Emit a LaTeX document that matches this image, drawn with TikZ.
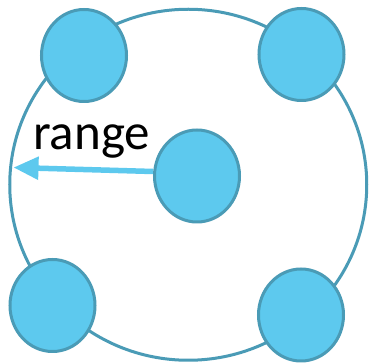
\documentclass[tikz,border=0pt]{standalone}
\usepackage{fontspec}
\setmainfont{Carlito}
\usetikzlibrary{shapes.geometric,arrows.meta}
\definecolor{rimblue}{RGB}{74,155,182}
\definecolor{dotblue}{RGB}{93,201,238}
\begin{document}
\begin{tikzpicture}[x=1pt, y=-1pt,
        zone/.style={draw=rimblue, line width=3pt, ellipse, fill=white,
                     minimum width=357pt, minimum height=351pt, inner sep=0pt},
        dev/.style={draw=rimblue, line width=3pt, ellipse, fill=dotblue,
                    minimum width=85pt, minimum height=92pt, inner sep=0pt},
        arr/.style={-{Triangle[length=25pt, width=22pt]}, line width=5.5pt, draw=dotblue}
      ]
      \useasboundingbox (0,0) rectangle (373,363);
      \node[zone] (zone) at (188.25,184.75) {};

      \coordinate (edge) at (13.5,167.5);
      \node[dev] (mid) at (197,176) {};
      \draw[arr] ([yshift=4.5pt]mid.west) -- (edge);

      \node[dev] (tl) at (84,55.5) {};
      \node[dev] (tr) at (301.5,54.5) {};
      \node[dev] (bl) at (52.5,305.5) {};
      \node[dev] (br) at (301,315) {};

      \node[anchor=base, font=\fontsize{51}{51}\selectfont, inner sep=0pt] (lbl) at (91.5,150) {range};
    \end{tikzpicture}
\end{document}
